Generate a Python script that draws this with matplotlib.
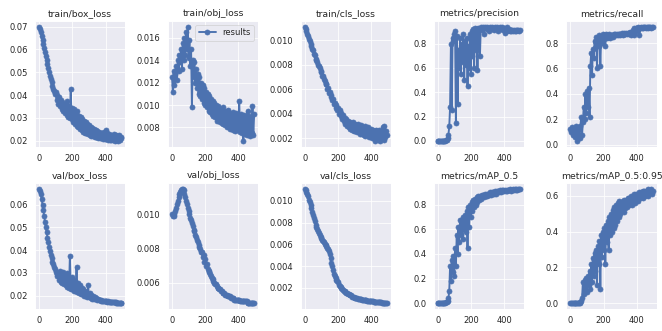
import matplotlib
matplotlib.use('Agg')
import matplotlib.pyplot as plt
import numpy as np
import seaborn as sns

# epochs sampled every 5
epochs = np.arange(0, 500, 5)

titles = ['train/box_loss', 'train/obj_loss', 'train/cls_loss', 'metrics/precision', 'metrics/recall',
          'val/box_loss', 'val/obj_loss', 'val/cls_loss', 'metrics/mAP_0.5', 'metrics/mAP_0.5:0.95']

train_box_loss = [
    0.0700, 0.0690, 0.0675, 0.0660, 0.0642, 0.0625, 0.0605, 0.0588, 0.0570, 0.0552,
    0.0535, 0.0518, 0.0500, 0.0485, 0.0470, 0.0455, 0.0440, 0.0428, 0.0418, 0.0405,
    0.0412, 0.0380, 0.0398, 0.0362, 0.0390, 0.0352, 0.0378, 0.0340, 0.0370, 0.0332,
    0.0362, 0.0320, 0.0358, 0.0312, 0.0372, 0.0305, 0.0350, 0.0298, 0.0428, 0.0295,
    0.0345, 0.0280, 0.0338, 0.0272, 0.0322, 0.0265, 0.0328, 0.0258, 0.0310, 0.0252,
    0.0302, 0.0245, 0.0295, 0.0240, 0.0288, 0.0235, 0.0280, 0.0232, 0.0275, 0.0228,
    0.0268, 0.0225, 0.0262, 0.0222, 0.0256, 0.0220, 0.0250, 0.0218, 0.0246, 0.0215,
    0.0242, 0.0213, 0.0238, 0.0212, 0.0234, 0.0210, 0.0232, 0.0208, 0.0236, 0.0207,
    0.0246, 0.0206, 0.0232, 0.0205, 0.0228, 0.0203, 0.0225, 0.0202, 0.0222, 0.0201,
    0.0228, 0.0200, 0.0226, 0.0201, 0.0220, 0.0199, 0.0224, 0.0202, 0.0218, 0.0210]

train_obj_loss = [
    0.0125, 0.0112, 0.0130, 0.0118, 0.0128, 0.0135, 0.0122, 0.0140, 0.0130, 0.0145,
    0.0138, 0.0150, 0.0132, 0.0155, 0.0140, 0.0160, 0.0145, 0.0165, 0.0150, 0.0170,
    0.0142, 0.0158, 0.0135, 0.0150, 0.0098, 0.0140, 0.0125, 0.0138, 0.0120, 0.0132,
    0.0115, 0.0128, 0.0110, 0.0125, 0.0108, 0.0120, 0.0105, 0.0118, 0.0102, 0.0115,
    0.0100, 0.0112, 0.0098, 0.0110, 0.0095, 0.0108, 0.0094, 0.0105, 0.0092, 0.0104,
    0.0090, 0.0102, 0.0089, 0.0100, 0.0086, 0.0099, 0.0088, 0.0097, 0.0085, 0.0096,
    0.0084, 0.0098, 0.0083, 0.0095, 0.0082, 0.0094, 0.0080, 0.0096, 0.0081, 0.0093,
    0.0079, 0.0092, 0.0080, 0.0094, 0.0078, 0.0091, 0.0077, 0.0093, 0.0078, 0.0090,
    0.0079, 0.0104, 0.0076, 0.0092, 0.0075, 0.0090, 0.0068, 0.0091, 0.0074, 0.0089,
    0.0073, 0.0095, 0.0074, 0.0090, 0.0072, 0.0088, 0.0075, 0.0099, 0.0073, 0.0092]

train_cls_loss = [
    0.0111, 0.0109, 0.0107, 0.0105, 0.0103, 0.0101, 0.0099, 0.0097, 0.0095, 0.0093,
    0.0092, 0.0089, 0.0088, 0.0085, 0.0084, 0.0082, 0.0080, 0.0079, 0.0077, 0.0075,
    0.0074, 0.0071, 0.0071, 0.0068, 0.0067, 0.0064, 0.0064, 0.0060, 0.0061, 0.0057,
    0.0058, 0.0054, 0.0055, 0.0051, 0.0052, 0.0048, 0.0049, 0.0045, 0.0047, 0.0043,
    0.0045, 0.0040, 0.0043, 0.0038, 0.0041, 0.0036, 0.0039, 0.0034, 0.0037, 0.0032,
    0.0036, 0.0030, 0.0034, 0.0029, 0.0033, 0.0028, 0.0032, 0.0027, 0.0033, 0.0026,
    0.0032, 0.0026, 0.0031, 0.0025, 0.0032, 0.0025, 0.0030, 0.0024, 0.0031, 0.0024,
    0.0029, 0.0023, 0.0030, 0.0022, 0.0028, 0.0023, 0.0029, 0.0021, 0.0027, 0.0022,
    0.0028, 0.0020, 0.0027, 0.0021, 0.0026, 0.0018, 0.0027, 0.0020, 0.0025, 0.0019,
    0.0027, 0.0018, 0.0026, 0.0020, 0.0029, 0.0019, 0.0030, 0.0021, 0.0026, 0.0023]

precision = [
    0.0, 0.0, 0.0, 0.0, 0.001, 0.0, 0.002, 0.0, 0.003, 0.002,
    0.005, 0.01, 0.02, 0.05, 0.12, 0.28, 0.80, 0.25, 0.85, 0.82,
    0.88, 0.90, 0.15, 0.86, 0.30, 0.75, 0.60, 0.85, 0.55, 0.80,
    0.65, 0.88, 0.50, 0.82, 0.62, 0.85, 0.45, 0.78, 0.60, 0.88,
    0.55, 0.90, 0.70, 0.92, 0.60, 0.93, 0.75, 0.92, 0.58, 0.93,
    0.92, 0.70, 0.94, 0.93, 0.91, 0.94, 0.88, 0.94, 0.93, 0.92,
    0.94, 0.93, 0.90, 0.94, 0.93, 0.92, 0.94, 0.93, 0.91, 0.94,
    0.93, 0.92, 0.94, 0.90, 0.93, 0.94, 0.92, 0.93, 0.94, 0.91,
    0.93, 0.89, 0.92, 0.94, 0.90, 0.91, 0.92, 0.90, 0.91, 0.90,
    0.91, 0.90, 0.91, 0.90, 0.91, 0.90, 0.91, 0.91, 0.90, 0.91]

recall = [
    0.12, 0.10, 0.14, 0.08, 0.12, 0.06, 0.10, 0.15, 0.03, 0.08,
    0.12, 0.05, 0.15, 0.22, 0.08, 0.18, 0.30, 0.20, 0.40, 0.25,
    0.42, 0.30, 0.45, 0.22, 0.62, 0.72, 0.55, 0.75, 0.68, 0.82,
    0.76, 0.85, 0.60, 0.84, 0.78, 0.86, 0.62, 0.85, 0.80, 0.87,
    0.83, 0.86, 0.78, 0.87, 0.84, 0.86, 0.85, 0.87, 0.84, 0.86,
    0.86, 0.85, 0.87, 0.86, 0.87, 0.86, 0.87, 0.86, 0.87, 0.87,
    0.86, 0.87, 0.88, 0.86, 0.87, 0.88, 0.87, 0.88, 0.87, 0.88,
    0.87, 0.88, 0.89, 0.86, 0.88, 0.90, 0.86, 0.92, 0.89, 0.92,
    0.92, 0.90, 0.93, 0.86, 0.92, 0.93, 0.92, 0.93, 0.92, 0.93,
    0.93, 0.92, 0.93, 0.93, 0.92, 0.93, 0.93, 0.92, 0.93, 0.93]

val_box_loss = [
    0.0670, 0.0660, 0.0645, 0.0625, 0.0600, 0.0575, 0.0550, 0.0525, 0.0500, 0.0478,
    0.0455, 0.0435, 0.0415, 0.0398, 0.0380, 0.0365, 0.0350, 0.0338, 0.0325, 0.0315,
    0.0305, 0.0295, 0.0285, 0.0300, 0.0270, 0.0310, 0.0262, 0.0295, 0.0255, 0.0305,
    0.0250, 0.0290, 0.0245, 0.0300, 0.0240, 0.0285, 0.0235, 0.0375, 0.0230, 0.0280,
    0.0228, 0.0270, 0.0222, 0.0265, 0.0220, 0.0325, 0.0215, 0.0255, 0.0212, 0.0245,
    0.0208, 0.0235, 0.0205, 0.0230, 0.0200, 0.0222, 0.0198, 0.0218, 0.0195, 0.0245,
    0.0192, 0.0210, 0.0190, 0.0202, 0.0187, 0.0198, 0.0185, 0.0192, 0.0183, 0.0188,
    0.0181, 0.0185, 0.0179, 0.0182, 0.0178, 0.0180, 0.0177, 0.0178, 0.0176, 0.0177,
    0.0175, 0.0176, 0.0174, 0.0175, 0.0173, 0.0174, 0.0172, 0.0173, 0.0171, 0.0172,
    0.0170, 0.0171, 0.0169, 0.0170, 0.0168, 0.0169, 0.0167, 0.0168, 0.0167, 0.0167]

val_obj_loss = [
    0.0100, 0.0099, 0.0099, 0.0100, 0.0102, 0.0104, 0.0106, 0.0108, 0.0110, 0.0112,
    0.0113, 0.0114, 0.0115, 0.0115, 0.0114, 0.0112, 0.0110, 0.0108, 0.0106, 0.0104,
    0.0102, 0.0100, 0.0098, 0.0097, 0.0095, 0.0093, 0.0091, 0.0090, 0.0088, 0.0087,
    0.0085, 0.0084, 0.0082, 0.0081, 0.0080, 0.0078, 0.0078, 0.0075, 0.0076, 0.0072,
    0.0074, 0.0070, 0.0071, 0.0068, 0.0067, 0.0066, 0.0065, 0.0064, 0.0063, 0.0062,
    0.0061, 0.0060, 0.0059, 0.0059, 0.0058, 0.0057, 0.0057, 0.0056, 0.0056, 0.0055,
    0.0055, 0.0054, 0.0054, 0.0054, 0.0053, 0.0053, 0.0053, 0.0052, 0.0052, 0.0052,
    0.0052, 0.0051, 0.0051, 0.0051, 0.0051, 0.0050, 0.0050, 0.0050, 0.0050, 0.0050,
    0.0050, 0.0050, 0.0049, 0.0049, 0.0049, 0.0049, 0.0049, 0.0049, 0.0049, 0.0049,
    0.0049, 0.0048, 0.0048, 0.0048, 0.0048, 0.0048, 0.0048, 0.0048, 0.0048, 0.0048]

val_cls_loss = [
    0.0111, 0.0110, 0.0108, 0.0106, 0.0104, 0.0101, 0.0099, 0.0096, 0.0093, 0.0090,
    0.0087, 0.0084, 0.0081, 0.0078, 0.0076, 0.0074, 0.0072, 0.0070, 0.0069, 0.0067,
    0.0066, 0.0064, 0.0063, 0.0062, 0.0060, 0.0059, 0.0058, 0.0057, 0.0056, 0.0054,
    0.0051, 0.0047, 0.0043, 0.0040, 0.0036, 0.0033, 0.0031, 0.0029, 0.0027, 0.0026,
    0.0025, 0.0023, 0.0022, 0.0021, 0.0020, 0.0019, 0.0018, 0.0017, 0.0017, 0.0016,
    0.0015, 0.0015, 0.0014, 0.0014, 0.0013, 0.0013, 0.0013, 0.0012, 0.0012, 0.0012,
    0.0011, 0.0011, 0.0011, 0.0011, 0.0010, 0.0010, 0.0010, 0.0010, 0.0010, 0.0009,
    0.0009, 0.0009, 0.0009, 0.0009, 0.0009, 0.0008, 0.0008, 0.0008, 0.0008, 0.0008,
    0.0008, 0.0008, 0.0008, 0.0007, 0.0007, 0.0007, 0.0007, 0.0007, 0.0007, 0.0007,
    0.0007, 0.0007, 0.0007, 0.0006, 0.0006, 0.0006, 0.0006, 0.0006, 0.0006, 0.0006]

map_05 = [
    0.0, 0.0, 0.0, 0.0, 0.0, 0.001, 0.0, 0.001, 0.002, 0.003,
    0.005, 0.008, 0.015, 0.04, 0.10, 0.30, 0.18, 0.35, 0.25, 0.38,
    0.22, 0.45, 0.30, 0.55, 0.40, 0.62, 0.50, 0.68, 0.55, 0.65,
    0.52, 0.70, 0.60, 0.72, 0.58, 0.75, 0.45, 0.78, 0.62, 0.80,
    0.70, 0.82, 0.75, 0.84, 0.78, 0.85, 0.80, 0.86, 0.82, 0.87,
    0.84, 0.87, 0.85, 0.88, 0.86, 0.88, 0.86, 0.89, 0.87, 0.89,
    0.87, 0.89, 0.88, 0.90, 0.88, 0.90, 0.89, 0.90, 0.89, 0.91,
    0.89, 0.91, 0.90, 0.91, 0.90, 0.92, 0.90, 0.92, 0.91, 0.92,
    0.91, 0.92, 0.91, 0.92, 0.91, 0.92, 0.92, 0.93, 0.91, 0.92,
    0.92, 0.93, 0.92, 0.93, 0.92, 0.93, 0.92, 0.93, 0.93, 0.93]

map_05_095 = [
    0.0, 0.0, 0.0, 0.0, 0.0, 0.0, 0.0, 0.001, 0.001, 0.002,
    0.002, 0.003, 0.005, 0.01, 0.03, 0.12, 0.05, 0.13, 0.08, 0.14,
    0.06, 0.15, 0.10, 0.18, 0.08, 0.22, 0.12, 0.25, 0.15, 0.28,
    0.18, 0.30, 0.10, 0.32, 0.22, 0.35, 0.08, 0.38, 0.26, 0.40,
    0.30, 0.42, 0.22, 0.44, 0.34, 0.46, 0.30, 0.48, 0.38, 0.50,
    0.40, 0.52, 0.42, 0.54, 0.44, 0.55, 0.46, 0.56, 0.48, 0.57,
    0.50, 0.56, 0.52, 0.57, 0.51, 0.58, 0.53, 0.58, 0.54, 0.59,
    0.55, 0.59, 0.56, 0.60, 0.55, 0.60, 0.57, 0.61, 0.56, 0.61,
    0.58, 0.61, 0.57, 0.62, 0.59, 0.62, 0.60, 0.63, 0.59, 0.63,
    0.60, 0.63, 0.61, 0.64, 0.60, 0.63, 0.62, 0.64, 0.61, 0.63]

series = [train_box_loss, train_obj_loss, train_cls_loss, precision, recall,
          val_box_loss, val_obj_loss, val_cls_loss, map_05, map_05_095]

sns.set_theme()

fig, axes = plt.subplots(2, 5, figsize=(12, 6), dpi=662 / 12)
fig.subplots_adjust(left=0.053, right=0.992, top=0.937, bottom=0.067, wspace=0.47, hspace=0.29)
axes = axes.ravel()

for i, ax in enumerate(axes):
    ax.plot(epochs, series[i], marker='.', label='results', linewidth=2.5, markersize=13)
    ax.set_title(titles[i], fontsize=12)
    if i == 1:
        ax.legend(loc='upper right')

fig.savefig('out.png')
